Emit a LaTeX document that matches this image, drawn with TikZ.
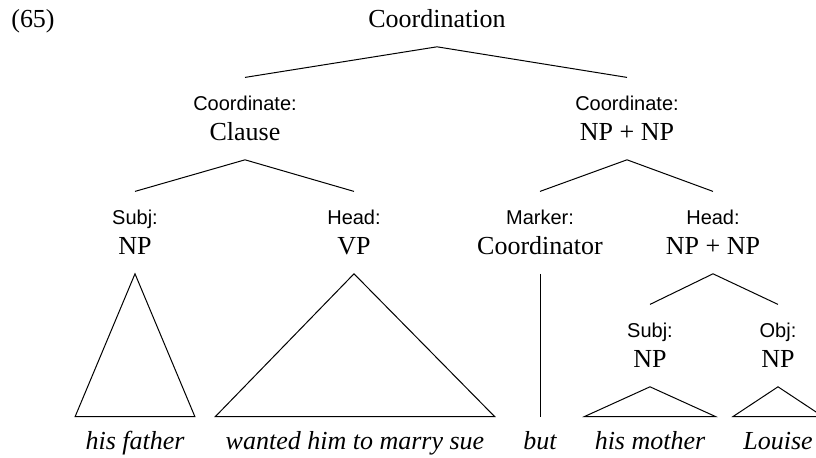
\documentclass[tikz,border=0pt]{standalone}
\usepackage{fontspec}
\setmainfont{Liberation Serif}
\setsansfont{Liberation Sans}

\tikzset{
  cat/.style={anchor=base,font=\fontsize{13}{15}\selectfont,
    inner xsep=0pt,inner ysep=9.7pt,text height=9pt,text depth=0pt},
  func/.style={anchor=base,font=\sffamily\fontsize{10}{12}\selectfont,
    inner xsep=0pt,inner ysep=8.9pt,text height=7.2pt,text depth=0pt},
  word/.style={anchor=base,font=\itshape\fontsize{13}{15}\selectfont,
    inner xsep=5pt,inner ysep=8pt,text height=8pt,text depth=0pt},
  branch/.style={line width=0.5pt,line join=miter},
}

\begin{document}
\begin{tikzpicture}[x=0.5pt,y=-0.5pt]
  \useasboundingbox (0,0) rectangle (816,457);

  \node[cat] (ex) at (33,27) {(65)};
  \node[cat] (root) at (437,27) {Coordination};

  % first level
  \node[func] (cl-f) at (245,110) {Coordinate:};
  \node[cat]  (cl)   at (245,140) {Clause};
  \node[func] (nn-f) at (627,110) {Coordinate:};
  \node[cat]  (nn)   at (627,140) {NP + NP};

  % second level
  \node[func] (subj-f) at (135,224) {Subj:};
  \node[cat]  (subj)   at (135,254) {NP};
  \node[func] (vp-f)   at (354,224) {Head:};
  \node[cat]  (vp)     at (354,254) {VP};
  \node[func] (mark-f) at (540,224) {Marker:};
  \node[cat]  (mark)   at (540,254) {Coordinator};
  \node[func] (head-f) at (713,224) {Head:};
  \node[cat]  (head)   at (713,254) {NP + NP};

  % third level
  \node[func] (subj2-f) at (650,337) {Subj:};
  \node[cat]  (subj2)   at (650,367) {NP};
  \node[func] (obj-f)   at (778,337) {Obj:};
  \node[cat]  (obj)     at (778,367) {NP};

  % words
  \node[word] (w1) at (135,449) {his father};
  \node[word] (w2) at (355,449) {wanted him to marry sue};
  \node[word] (w3) at (540,449) {but};
  \node[word] (w4) at (650,449) {his mother};
  \node[word] (w5) at (778,449) {Louise};

  \draw[branch] (cl-f.north) -- (root.south) -- (nn-f.north);
  \draw[branch] (subj-f.north) -- (cl.south) -- (vp-f.north);
  \draw[branch] (mark-f.north) -- (nn.south) -- (head-f.north);
  \draw[branch] (subj2-f.north) -- (head.south) -- (obj-f.north);

  \draw[branch] (subj.south) -- (w1.north west) -- (w1.north east) -- cycle;
  \draw[branch] (vp.south) -- (w2.north west) -- (w2.north east) -- cycle;
  \draw[branch] (mark.south) -- (w3.north);
  \draw[branch] (subj2.south) -- (w4.north west) -- (w4.north east) -- cycle;
  \draw[branch] (obj.south) -- (w5.north west) -- (w5.north east) -- cycle;
\end{tikzpicture}
\end{document}
